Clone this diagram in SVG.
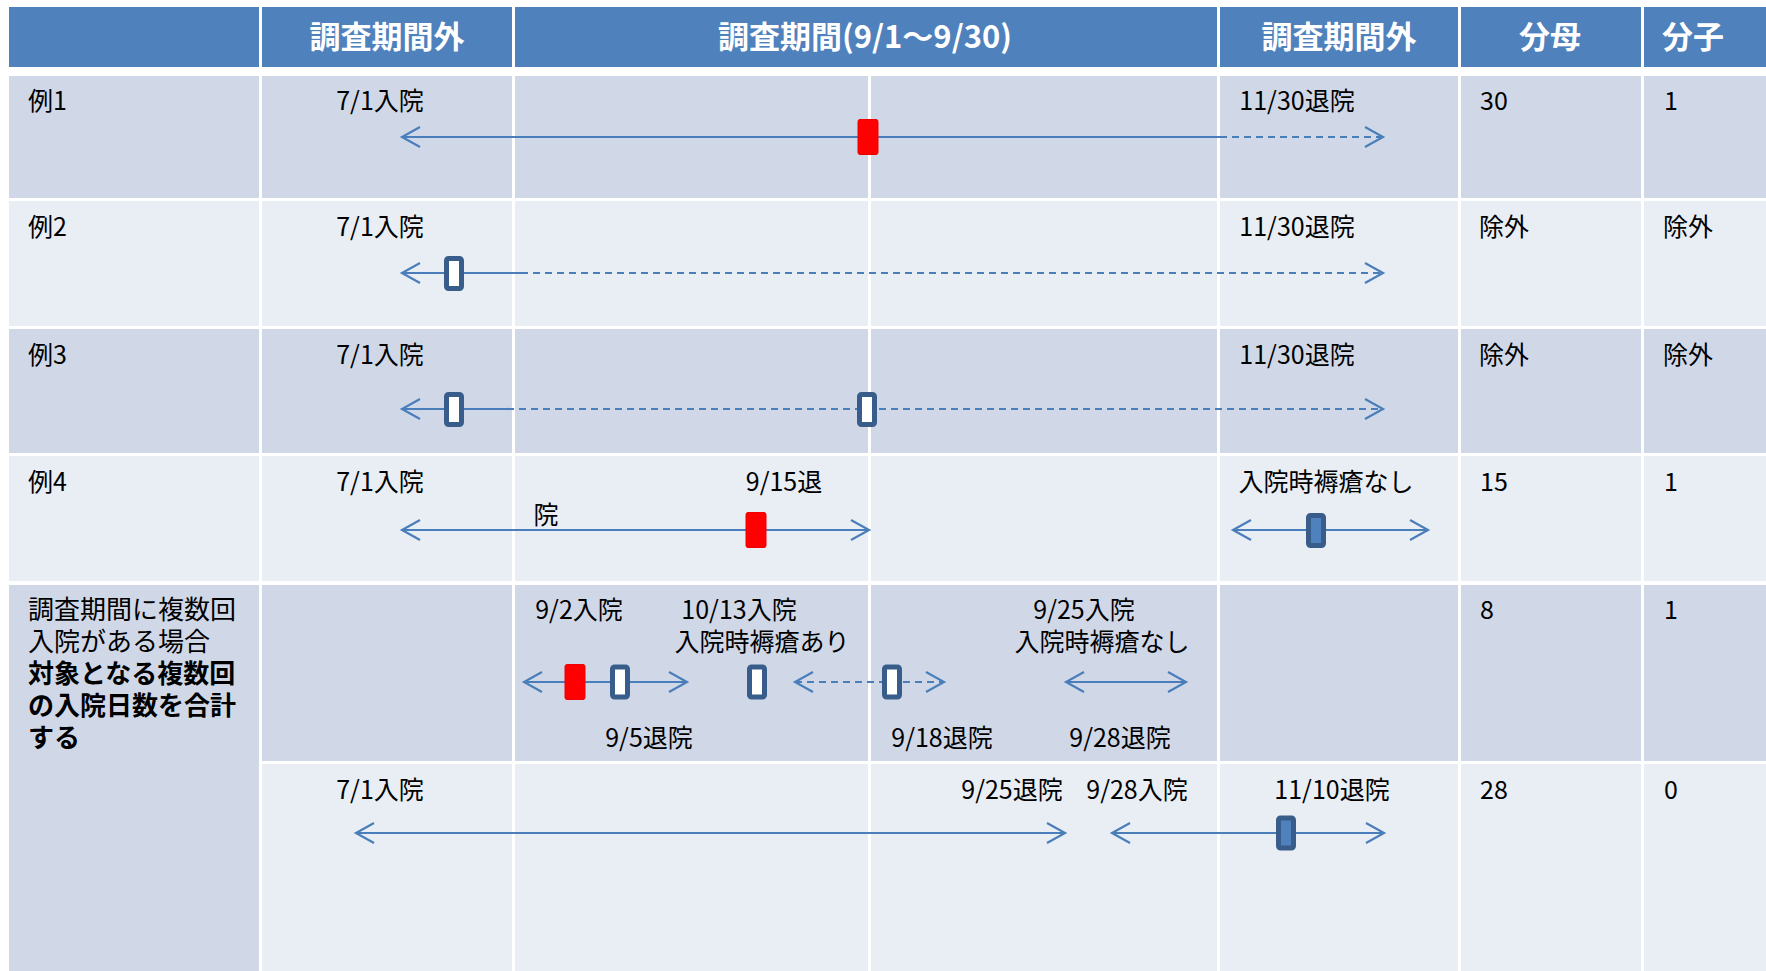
<svg xmlns="http://www.w3.org/2000/svg" width="1766" height="971" viewBox="0 0 1766 971">
<style>
.hd{fill:#4F81BD}
.dk{fill:#D0D8E8}
.lt{fill:#E9EDF4}
.ht{font-family:"Noto Sans CJK JP","Liberation Sans",sans-serif;font-size:31px;font-weight:bold;fill:#FFFFFF;text-anchor:middle}
.t{font-family:"Noto Sans CJK JP","Liberation Sans",sans-serif;font-size:25px;fill:#000000}
.c{text-anchor:middle}
.lc{font-family:"Noto Sans CJK JP","Liberation Sans",sans-serif;font-size:26px;fill:#000000}
.b{font-weight:bold}
.ln{stroke:#4A7EBB;stroke-width:2.2;fill:none}
.ds{stroke-dasharray:7 5}
.red{fill:#FF0000;stroke:#F00000;stroke-width:1}
.wb{fill:#FFFFFF;stroke:#385D8A;stroke-width:5}
.bb{fill:#4F81BD;stroke:#385D8A;stroke-width:5}
</style>
<defs>
<marker id="ch" markerUnits="userSpaceOnUse" markerWidth="24" markerHeight="24" viewBox="-20 -12 24 24" refX="0" refY="0" orient="auto-start-reverse">
<path d="M-18,-10 L0,0 L-18,10" fill="none" stroke="#4A7EBB" stroke-width="2.2" stroke-dasharray="none"/>
</marker>
</defs>
<rect x="0" y="0" width="1766" height="971" fill="#FFFFFF"/>
<g id="header">
<rect class="hd" x="9" y="7" width="250" height="60"/>
<rect class="hd" x="262" y="7" width="250" height="60"/>
<rect class="hd" x="515" y="7" width="702" height="60"/>
<rect class="hd" x="1220" y="7" width="238" height="60"/>
<rect class="hd" x="1461" y="7" width="180" height="60"/>
<rect class="hd" x="1644" y="7" width="122" height="60"/>
<text class="ht" x="387" y="48">調査期間外</text>
<text class="ht" x="865" y="48">調査期間(9/1～9/30)</text>
<text class="ht" x="1339" y="48">調査期間外</text>
<text class="ht" x="1550" y="48">分母</text>
<text class="ht" x="1693" y="48">分子</text>
</g>
<g id="row1">
<rect class="dk" x="9" y="76" width="250" height="122"/>
<rect class="dk" x="262" y="76" width="250" height="122"/>
<rect class="dk" x="515" y="76" width="353" height="122"/>
<rect class="dk" x="871" y="76" width="346" height="122"/>
<rect class="dk" x="1220" y="76" width="238" height="122"/>
<rect class="dk" x="1461" y="76" width="180" height="122"/>
<rect class="dk" x="1644" y="76" width="122" height="122"/>
<text class="t" x="28" y="110">例1</text>
<text class="t c" x="380" y="110">7/1入院</text>
<text class="t c" x="1297" y="110">11/30退院</text>
<text class="t" x="1480" y="110">30</text>
<text class="t" x="1664" y="110">1</text>
</g>
<g id="row2">
<rect class="lt" x="9" y="201" width="250" height="125"/>
<rect class="lt" x="262" y="201" width="250" height="125"/>
<rect class="lt" x="515" y="201" width="353" height="125"/>
<rect class="lt" x="871" y="201" width="346" height="125"/>
<rect class="lt" x="1220" y="201" width="238" height="125"/>
<rect class="lt" x="1461" y="201" width="180" height="125"/>
<rect class="lt" x="1644" y="201" width="122" height="125"/>
<text class="t" x="28" y="236">例2</text>
<text class="t c" x="380" y="236">7/1入院</text>
<text class="t c" x="1297" y="236">11/30退院</text>
<text class="t" x="1479" y="236">除外</text>
<text class="t" x="1663" y="236">除外</text>
</g>
<g id="row3">
<rect class="dk" x="9" y="329" width="250" height="124"/>
<rect class="dk" x="262" y="329" width="250" height="124"/>
<rect class="dk" x="515" y="329" width="353" height="124"/>
<rect class="dk" x="871" y="329" width="346" height="124"/>
<rect class="dk" x="1220" y="329" width="238" height="124"/>
<rect class="dk" x="1461" y="329" width="180" height="124"/>
<rect class="dk" x="1644" y="329" width="122" height="124"/>
<text class="t" x="28" y="364">例3</text>
<text class="t c" x="380" y="364">7/1入院</text>
<text class="t c" x="1297" y="364">11/30退院</text>
<text class="t" x="1479" y="364">除外</text>
<text class="t" x="1663" y="364">除外</text>
</g>
<g id="row4">
<rect class="lt" x="9" y="456" width="250" height="125"/>
<rect class="lt" x="262" y="456" width="250" height="125"/>
<rect class="lt" x="515" y="456" width="353" height="125"/>
<rect class="lt" x="871" y="456" width="346" height="125"/>
<rect class="lt" x="1220" y="456" width="238" height="125"/>
<rect class="lt" x="1461" y="456" width="180" height="125"/>
<rect class="lt" x="1644" y="456" width="122" height="125"/>
<text class="t" x="28" y="491">例4</text>
<text class="t c" x="380" y="491">7/1入院</text>
<text class="t c" x="784" y="491">9/15退</text>
<text class="t c" x="546" y="524">院</text>
<text class="t c" x="1326" y="491">入院時褥瘡なし</text>
<text class="t" x="1480" y="491">15</text>
<text class="t" x="1664" y="491">1</text>
</g>
<g id="row5">
<rect class="dk" x="9" y="585" width="250" height="386"/>
<rect class="dk" x="262" y="585" width="250" height="176"/>
<rect class="dk" x="515" y="585" width="353" height="176"/>
<rect class="dk" x="871" y="585" width="346" height="176"/>
<rect class="dk" x="1220" y="585" width="238" height="176"/>
<rect class="dk" x="1461" y="585" width="180" height="176"/>
<rect class="dk" x="1644" y="585" width="122" height="176"/>
<text class="lc" x="28" y="619">調査期間に複数回</text>
<text class="lc" x="28" y="651">入院がある場合</text>
<text class="lc b" x="28" y="683">対象となる複数回</text>
<text class="lc b" x="28" y="715">の入院日数を合計</text>
<text class="lc b" x="28" y="747">する</text>
<text class="t c" x="579" y="619">9/2入院</text>
<text class="t c" x="739" y="619">10/13入院</text>
<text class="t c" x="762" y="651">入院時褥瘡あり</text>
<text class="t c" x="1084" y="619">9/25入院</text>
<text class="t c" x="1102" y="651">入院時褥瘡なし</text>
<text class="t c" x="649" y="747">9/5退院</text>
<text class="t c" x="942" y="747">9/18退院</text>
<text class="t c" x="1120" y="747">9/28退院</text>
<text class="t" x="1480" y="619">8</text>
<text class="t" x="1664" y="619">1</text>
</g>
<g id="row6">
<rect class="lt" x="262" y="764" width="250" height="207"/>
<rect class="lt" x="515" y="764" width="353" height="207"/>
<rect class="lt" x="871" y="764" width="346" height="207"/>
<rect class="lt" x="1220" y="764" width="238" height="207"/>
<rect class="lt" x="1461" y="764" width="180" height="207"/>
<rect class="lt" x="1644" y="764" width="122" height="207"/>
<text class="t c" x="380" y="799">7/1入院</text>
<text class="t c" x="1012" y="799">9/25退院</text>
<text class="t c" x="1137" y="799">9/28入院</text>
<text class="t c" x="1332" y="799">11/10退院</text>
<text class="t" x="1480" y="799">28</text>
<text class="t" x="1664" y="799">0</text>
</g>
<g id="connectors">
<line class="ln" x1="402" y1="137" x2="1220" y2="137" marker-start="url(#ch)"/>
<line class="ln ds" x1="1220" y1="137" x2="1383" y2="137" marker-end="url(#ch)"/>
<line class="ln" x1="402" y1="273" x2="521" y2="273" marker-start="url(#ch)"/>
<line class="ln ds" x1="521" y1="273" x2="1383" y2="273" marker-end="url(#ch)"/>
<line class="ln" x1="402" y1="409" x2="507" y2="409" marker-start="url(#ch)"/>
<line class="ln ds" x1="507" y1="409" x2="1383" y2="409" marker-end="url(#ch)"/>
<line class="ln" x1="402" y1="530" x2="869" y2="530" marker-start="url(#ch)" marker-end="url(#ch)"/>
<line class="ln" x1="1233" y1="530" x2="1428" y2="530" marker-start="url(#ch)" marker-end="url(#ch)"/>
<line class="ln" x1="524" y1="682" x2="687" y2="682" marker-start="url(#ch)" marker-end="url(#ch)"/>
<line class="ln ds" x1="795" y1="682" x2="944" y2="682" marker-start="url(#ch)" marker-end="url(#ch)"/>
<line class="ln" x1="1066" y1="682" x2="1186" y2="682" marker-start="url(#ch)" marker-end="url(#ch)"/>
<line class="ln" x1="356" y1="833" x2="1065" y2="833" marker-start="url(#ch)" marker-end="url(#ch)"/>
<line class="ln" x1="1112" y1="833" x2="1384" y2="833" marker-start="url(#ch)" marker-end="url(#ch)"/>
</g>
<g id="markers">
<rect class="red" x="858" y="119.5" width="20" height="35" rx="2"/>
<rect class="wb" x="446.5" y="258.5" width="15" height="30" rx="2"/>
<rect class="wb" x="446.5" y="394.5" width="15" height="30" rx="2"/>
<rect class="wb" x="859.5" y="394.5" width="15" height="30" rx="2"/>
<rect class="red" x="746" y="512.5" width="20" height="35" rx="2"/>
<rect class="bb" x="1308.5" y="515.5" width="15" height="30" rx="2"/>
<rect class="red" x="565" y="664.5" width="20" height="35" rx="2"/>
<rect class="wb" x="612.5" y="667" width="15" height="30" rx="2"/>
<rect class="wb" x="749.5" y="667" width="15" height="30" rx="2"/>
<rect class="wb" x="884.5" y="667" width="15" height="30" rx="2"/>
<rect class="bb" x="1278.5" y="818" width="15" height="30" rx="2"/>
</g>
</svg>
